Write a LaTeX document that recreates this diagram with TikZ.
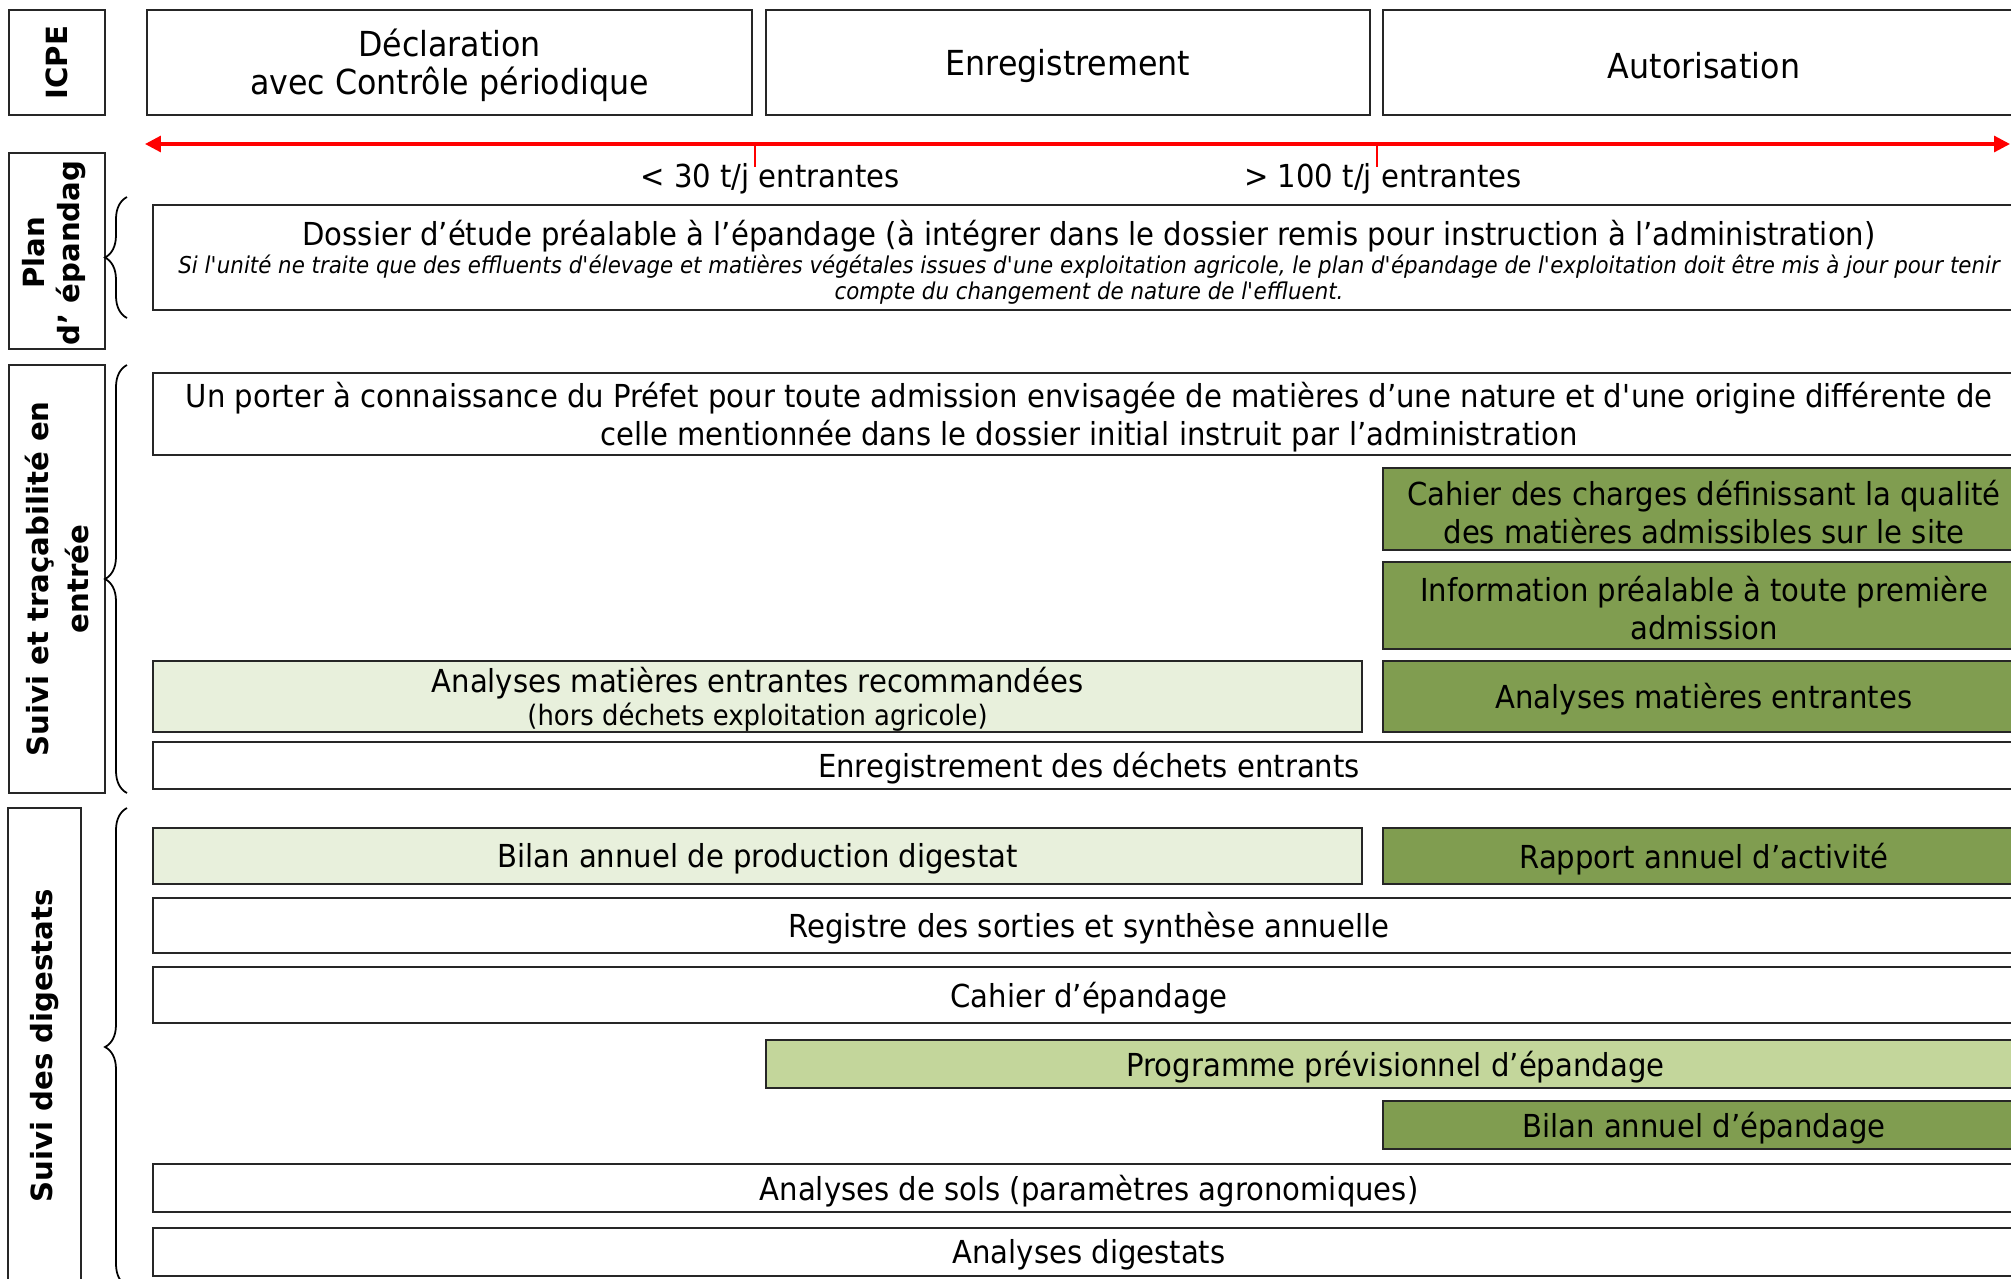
\documentclass[tikz,border=0pt]{standalone}
\usepackage{fontspec}
\setmainfont{DejaVu Sans}
\newfontfamily\textefont{DejaVu Sans}[FakeStretch=0.92]
\usepackage{tikz}
\usetikzlibrary{arrows.meta,decorations.pathreplacing}
\definecolor{vertfonce}{HTML}{809D50}
\definecolor{vertmoyen}{HTML}{C3D69B}
\definecolor{vertclair}{HTML}{E8F0DC}

\begin{document}
\begin{tikzpicture}[x=0.01cm, y=-0.01cm,
    boite/.style={draw=black!85, line width=0.5pt},
    texte/.style={font=\textefont\fontsize{9}{10.8}\selectfont, align=center, inner sep=0pt, yshift=-0.03cm},
    entete/.style={texte, font=\textefont\fontsize{9.8}{10.9}\selectfont},
    note/.style={font=\textefont\fontsize{6.6}{7.4}\selectfont\itshape, align=center, inner sep=0pt},
    titre/.style={font=\fontsize{8.3}{11.6}\selectfont\bfseries, align=center, rotate=90, inner sep=0pt},
    accolade/.style={decorate, decoration={brace, amplitude=0.22cm}, line width=0.5pt}]
      \clip (0,0) rectangle (2011,1278);
      \draw[boite] (9,10) rectangle (105,115) node (icpe) [pos=.5, titre] {ICPE}
            (147,10) rectangle (752,115) node (declaration) [pos=.5, entete] {Déclaration\\avec Contrôle périodique}
            (766,10) rectangle (1370,115) node (enregistrement) [pos=.5, entete] {Enregistrement}
            (1383,10) rectangle (2025,115) node (autorisation) [pos=.5, entete] {Autorisation};
      \coordinate (gauche) at (145,144);
      \coordinate (droite) at (2010,144);
      \coordinate (seuil30) at (755,144);
      \coordinate (seuil30b) at (755,167);
      \coordinate (seuil100) at (1377,144);
      \coordinate (seuil100b) at (1377,167);
      \draw[red, line width=0.9pt, {Triangle[length=4.5pt,width=4.5pt]}-{Triangle[length=4.5pt,width=4.5pt]}] (gauche) -- (droite);
      \draw[red, line width=0.5pt] (seuil30) -- (seuil30b)
                                   (seuil100) -- (seuil100b);
      \node (moins30) [texte] at (770,176) {< 30 t/j entrantes};
      \node (plus100) [texte] at (1383,176) {> 100 t/j entrantes};
      \draw[boite] (9,153) rectangle (105,349) node (plan) [pos=.5, titre, yshift=0.03cm, xshift=-0.02cm] {Plan\\[-1.5pt]d’ épandag};
      \draw[accolade] (127,318) -- (127,197);
      \draw[boite] (153,205) rectangle (2025,310) node (dossier) [pos=.5, texte, yshift=0.245cm] {Dossier d’étude préalable à l’épandage (à intégrer dans le dossier remis pour instruction à l’administration)};
      \node (dossier-note) [note] at ([yshift=-0.44cm]dossier.center) {Si l\textquotesingle unité ne traite que des effluents d\textquotesingle élevage et matières végétales issues d\textquotesingle une exploitation agricole, le plan d\textquotesingle épandage de l\textquotesingle exploitation doit être mis à jour pour tenir\\compte du changement de nature de l\textquotesingle effluent.};
      \draw[boite] (9,365) rectangle (105,793) node (suivi-entree) [pos=.5, titre] {Suivi et traçabilité en\\entrée};
      \draw[accolade] (127,793) -- (127,365);
      \draw[boite] (153,373) rectangle (2025,455) node (porter) [pos=.5, texte] {Un porter à connaissance du Préfet pour toute admission envisagée de matières d’une nature et d\textquotesingle une origine différente de\\celle mentionnée dans le dossier initial instruit par l’administration};
      \draw[boite, fill=vertfonce] (1383,468) rectangle (2025,550) node (cahier-charges) [pos=.5, texte] {Cahier des charges définissant la qualité\\des matières admissibles sur le site}
            (1383,562) rectangle (2025,649) node (information) [pos=.5, texte] {Information préalable à toute première\\admission}
            (1383,661) rectangle (2025,732) node (analyses) [pos=.5, texte] {Analyses matières entrantes};
      \draw[boite, fill=vertclair] (153,661) rectangle (1362,732) node (analyses-reco) [pos=.5, texte] {Analyses matières entrantes recommandées\\[-1.5pt]{\fontsize{8}{9}\selectfont (hors déchets exploitation agricole)}};
      \draw[boite] (153,742) rectangle (2025,789) node (entrants) [pos=.5, texte] {Enregistrement des déchets entrants};
      \draw[boite] (8,808) rectangle (81,1284) node (suivi-digestats) [pos=.5, titre] {Suivi des digestats};
      \draw[accolade] (127,1286) -- (127,808);
      \draw[boite, fill=vertclair] (153,828) rectangle (1362,884) node (bilan-production) [pos=.5, texte] {Bilan annuel de production digestat};
      \draw[boite, fill=vertfonce] (1383,828) rectangle (2025,884) node (rapport) [pos=.5, texte] {Rapport annuel d’activité};
      \draw[boite] (153,898) rectangle (2025,953) node (registre) [pos=.5, texte] {Registre des sorties et synthèse annuelle}
            (153,967) rectangle (2025,1023) node (cahier-epandage) [pos=.5, texte] {Cahier d’épandage};
      \draw[boite, fill=vertmoyen] (766,1040) rectangle (2025,1088) node (programme) [pos=.5, texte] {Programme prévisionnel d’épandage};
      \draw[boite, fill=vertfonce] (1383,1101) rectangle (2025,1149) node (bilan-epandage) [pos=.5, texte] {Bilan annuel d’épandage};
      \draw[boite] (153,1164) rectangle (2025,1212) node (sols) [pos=.5, texte] {Analyses de sols (paramètres agronomiques)}
            (153,1228) rectangle (2025,1276) node (digestats) [pos=.5, texte] {Analyses digestats};
\end{tikzpicture}
\end{document}
